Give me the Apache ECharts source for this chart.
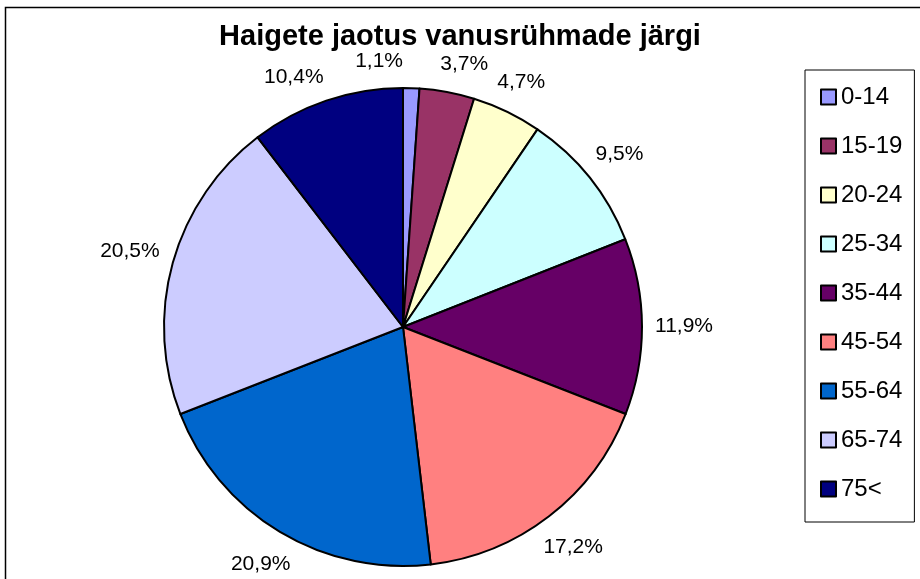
<!DOCTYPE html>
<html>
<head>
<meta charset="utf-8">
<script src="https://cdn.jsdelivr.net/npm/echarts@6/dist/echarts.min.js"></script>
<style>
  html, body { margin: 0; padding: 0; background: #fff; }
  #main { width: 920px; height: 579px; }
</style>
</head>
<body>
<div id="main"></div>
<script>
// vanusrühmad ja osakaalud (%)
var ageGroups = ['0-14', '15-19', '20-24', '25-34', '35-44', '45-54', '55-64', '65-74', '75<'];
var shares = [1.1, 3.7, 4.7, 9.5, 11.9, 17.2, 20.9, 20.5, 10.4];
var sliceColors = ['#9999FF', '#993366', '#FFFFCC', '#CCFFFF', '#660066', '#FF8080', '#0066CC', '#CCCCFF', '#000080'];

var cx = 403, cy = 327, pieR = 239, rEdge = 252;
var font = '"Liberation Sans", Arial, sans-serif';
// labels near the top are spread apart a bit (as Excel did)
var labelNudge = { 0: [-33, -3], 1: [12, -1], 8: [-22, 7] };

function fmtPct(v) {
    return v.toFixed(1).replace('.', ',') + '%';
}

var myChart = echarts.init(document.getElementById('main'));

var option = {
    animation: false,
    title: {
        text: 'Haigete jaotus vanusrühmade järgi',
        left: 'center',
        top: 17,
        textStyle: { fontFamily: font, fontSize: 29, fontWeight: 'bold', color: '#000' }
    },
    legend: {
        orient: 'vertical',
        left: 805,
        top: 70,
        data: ageGroups,
        icon: 'rect',
        itemWidth: 15,
        itemHeight: 15,
        itemGap: 25,
        padding: [15, 12, 21, 15],
        borderColor: '#000',
        borderWidth: 1,
        textStyle: { fontFamily: font, fontSize: 24, color: '#000' }
    },
    graphic: [{
        type: 'rect',
        silent: true,
        shape: { x: 5.5, y: 7.5, width: 940, height: 620 },
        style: { fill: 'none', stroke: '#000', lineWidth: 1.5 }
    }],
    series: [{
        // the pie itself
        type: 'pie',
        center: [cx, cy],
        radius: pieR,
        startAngle: 90,
        clockwise: true,
        avoidLabelOverlap: false,
        label: { show: false },
        labelLine: { show: false },
        emphasis: { disabled: true },
        itemStyle: { borderColor: '#000', borderWidth: 2 },
        data: ageGroups.map(function (name, i) {
            return { name: name, value: shares[i], itemStyle: { color: sliceColors[i] } };
        })
    }, {
        // invisible ring, only carries the percentage labels
        type: 'pie',
        center: [cx, cy],
        radius: [rEdge - 1, rEdge + 1],
        startAngle: 90,
        clockwise: true,
        silent: true,
        avoidLabelOverlap: false,
        emphasis: { disabled: true },
        itemStyle: { color: 'rgba(0,0,0,0)', borderWidth: 0 },
        labelLine: { show: false },
        label: {
            show: true,
            position: 'inside',
            rotate: 0,
            color: '#000',
            fontFamily: font,
            fontSize: 21,
            formatter: function (p) { return fmtPct(p.value); }
        },
        labelLayout: function (p) {
            var r = p.labelRect;
            var px = r.x + r.width / 2, py = r.y + r.height / 2;
            var len = Math.sqrt((px - cx) * (px - cx) + (py - cy) * (py - cy)) || 1;
            var dx = (px - cx) / len, dy = (py - cy) / len;
            var d = rEdge + r.width / 2 * Math.abs(dx) + r.height / 2 * Math.abs(dy);
            var nudge = labelNudge[p.dataIndex] || [0, 0];
            return {
                x: cx + dx * d + nudge[0],
                y: cy + dy * d + nudge[1],
                align: 'center',
                verticalAlign: 'middle'
            };
        },
        data: ageGroups.map(function (name, i) {
            return { name: name, value: shares[i] };
        })
    }]
};

myChart.setOption(option);
</script>
</body>
</html>
